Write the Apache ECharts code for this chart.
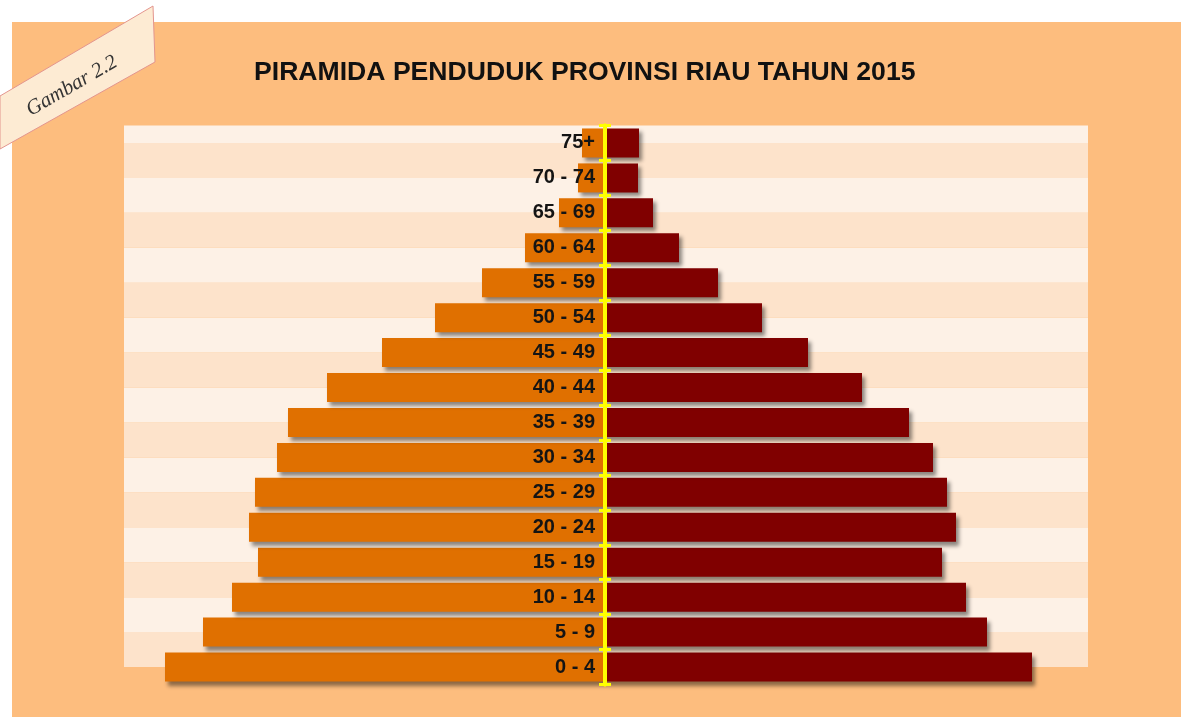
<!DOCTYPE html>
<html>
<head>
<meta charset="utf-8">
<script src="https://cdn.jsdelivr.net/npm/echarts@6/dist/echarts.min.js"></script>
<style>
  html, body { margin: 0; padding: 0; background: #ffffff; }
  #chart { width: 1181px; height: 717px; }
</style>
</head>
<body>
<div id="chart"></div>
<script>
// Age groups, bottom to top
const categories = ['0 - 4', '5 - 9', '10 - 14', '15 - 19', '20 - 24', '25 - 29', '30 - 34', '35 - 39',
                    '40 - 44', '45 - 49', '50 - 54', '55 - 59', '60 - 64', '65 - 69', '70 - 74', '75+'];
// Left side (laki-laki), estimated values
const maleValues = [440, 402, 373, 347, 356, 350, 328, 317, 278, 223, 170, 123, 80, 46, 27, 23];
// Right side (perempuan), estimated values
const femaleValues = [427, 382, 361, 337, 351, 342, 328, 304, 257, 203, 157, 113, 74, 48, 33, 34];
const titleText = 'PIRAMIDA PENDUDUK PROVINSI RIAU TAHUN 2015';
const figureLabel = 'Gambar 2.2';

const axisMax = 480;
const chart = echarts.init(document.getElementById('chart'), null, { renderer: 'canvas' });

const yellow = '#ffff00';
const gridMain = { left: 125, top: 125.5, width: 960, height: 559 };
// right half of the main grid: its left edge is the zero line of the main grid
const gridRightHalf = { left: 605, top: 125.5, width: 480, height: 559 };

const option = {
  backgroundColor: '#ffffff',
  animation: false,
  title: {
    text: titleText,
    left: 254,
    top: 59,
    padding: 0,
    textStyle: { fontFamily: 'Liberation Sans, Arial, sans-serif', fontSize: 26.6, fontWeight: 'bold', color: '#111111' }
  },
  graphic: [
    { type: 'rect', z: -100, shape: { x: 12, y: 22, width: 1169, height: 695 }, style: { fill: '#fdbd7e' } },
    { type: 'polygon', z: 100, shape: { points: [[0, 96], [153, 6], [155, 62], [0, 149]] },
      style: { fill: '#fdebd3', stroke: '#e3958e', lineWidth: 1 } },
    { type: 'text', z: 101, x: 72, y: 86, rotation: 30 * Math.PI / 180,
      style: { text: figureLabel, fontFamily: 'Liberation Serif, Times New Roman, serif', fontStyle: 'italic',
               fontSize: 21, fill: '#333333', textAlign: 'center', textVerticalAlign: 'middle' } }
  ],
  grid: [
    gridMain,
    { left: 124, top: 125.5, width: 964, height: 541.5 },
    gridRightHalf,
    gridRightHalf
  ],
  xAxis: [
    { gridIndex: 0, type: 'value', min: -axisMax, max: axisMax, show: false },
    { gridIndex: 1, type: 'value', min: 0, max: 1, show: false },
    { gridIndex: 2, type: 'value', min: 0, max: axisMax, show: false },
    { gridIndex: 3, type: 'value', min: 0, max: axisMax, show: false }
  ],
  yAxis: [
    {
      gridIndex: 0, type: 'category', data: categories,
      axisLine: { show: false }, axisTick: { show: false }, axisLabel: { show: false }, splitLine: { show: false }
    },
    {
      gridIndex: 1, type: 'value', min: 0, max: 15.5, interval: 1, z: 0,
      axisLine: { show: false }, axisTick: { show: false }, axisLabel: { show: false },
      splitLine: { show: false },
      splitArea: { show: true, areaStyle: { color: ['#fde3cb', '#fdf1e6'] } }
    },
    {
      gridIndex: 2, type: 'category', data: categories, position: 'left', z: 5,
      axisLine: { show: true, onZero: false, lineStyle: { color: yellow, width: 4 } },
      axisTick: { show: true, inside: false, length: 6, lineStyle: { color: yellow, width: 3 } },
      axisLabel: { margin: 10, fontFamily: 'Liberation Sans, Arial, sans-serif', fontSize: 20, fontWeight: 'bold', color: '#141414' },
      splitLine: { show: false }
    },
    {
      gridIndex: 3, type: 'category', data: categories, position: 'left', z: 5,
      axisLine: { show: true, onZero: false, lineStyle: { color: yellow, width: 4 } },
      axisTick: { show: true, inside: true, length: 6, lineStyle: { color: yellow, width: 3 } },
      axisLabel: { show: false },
      splitLine: { show: false }
    }
  ],
  series: [
    {
      name: 'Laki-laki', type: 'bar', xAxisIndex: 0, yAxisIndex: 0, stack: 'pop', z: 2,
      barWidth: 29,
      data: maleValues.map(v => -v),
      itemStyle: { color: '#e07000', shadowColor: 'rgba(0,0,0,0.45)', shadowBlur: 4, shadowOffsetX: 3, shadowOffsetY: 4 }
    },
    {
      name: 'Perempuan', type: 'bar', xAxisIndex: 0, yAxisIndex: 0, stack: 'pop', z: 2,
      barWidth: 29,
      data: femaleValues,
      itemStyle: { color: '#800000', shadowColor: 'rgba(0,0,0,0.45)', shadowBlur: 4, shadowOffsetX: 3, shadowOffsetY: 4 }
    }
  ]
};
chart.setOption(option);
</script>
</body>
</html>
